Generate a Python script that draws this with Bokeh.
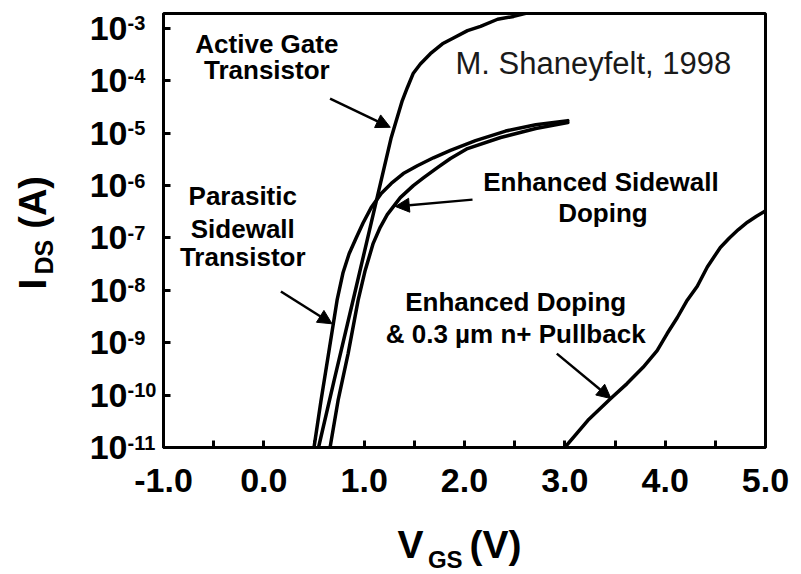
import math

from bokeh.plotting import figure
from bokeh.models import (Range1d, FixedTicker, Label, Arrow, NormalHead,
                          CustomJSTickFormatter, PrintfTickFormatter)
from bokeh.core.properties import value
from bokeh.embed import file_html
from bokeh.resources import INLINE

# --- measured transfer curves: gate voltage (V) vs drain current (A) ---
vgs_active = [0.545, 0.70, 0.90, 1.10, 1.27, 1.31, 1.38, 1.43, 1.49, 1.56, 1.66, 1.78,
              1.89, 2.03, 2.16, 2.33, 2.49, 2.76]
ids_active = [1.0e-11, 1.9e-10, 7.9e-9, 3.4e-7, 8.3e-6, 1.5e-5, 4.2e-5, 7.4e-5, 1.4e-4,
              2.1e-4, 3.3e-4, 5.1e-4, 6.6e-4, 9.1e-4, 1.1e-3, 1.5e-3, 1.7e-3, 2.3e-3]

vgs_parasitic = [0.50, 0.57, 0.65, 0.73, 0.79, 0.85, 0.92, 0.99, 1.07, 1.17, 1.27, 1.39,
                 1.53, 1.69, 1.86, 2.11, 2.41, 2.71, 3.03]
ids_parasitic = [1.0e-11, 7.9e-11, 7.1e-10, 6.5e-9, 2.2e-8, 5.0e-8, 1.0e-7, 1.95e-7,
                 3.8e-7, 7.1e-7, 1.1e-6, 1.7e-6, 2.4e-6, 3.4e-6, 4.7e-6, 7.2e-6,
                 1.1e-5, 1.45e-5, 1.74e-5]

vgs_sidewall = [0.66, 0.74, 0.84, 0.94, 1.01, 1.09, 1.16, 1.23, 1.36, 1.49, 1.59, 1.73,
                1.86, 2.03, 2.36, 2.71, 3.03]
ids_sidewall = [1.0e-11, 7.9e-11, 6.2e-10, 6.5e-9, 2.4e-8, 7.9e-8, 1.6e-7, 2.8e-7,
                5.9e-7, 1.0e-6, 1.4e-6, 2.2e-6, 3.3e-6, 5.1e-6, 8.3e-6, 1.23e-5, 1.6e-5]

vgs_pullback = [3.00, 3.23, 3.46, 3.62, 3.78, 3.92, 4.02, 4.12, 4.22, 4.32, 4.42, 4.55,
                4.64, 4.73, 4.82, 4.91, 5.00]
ids_pullback = [1.0e-11, 3.3e-11, 8.7e-11, 1.66e-10, 3.4e-10, 7.1e-10, 1.5e-9, 3.0e-9,
                6.5e-9, 1.2e-8, 2.8e-8, 6.6e-8, 1.0e-7, 1.45e-7, 2.0e-7, 2.6e-7, 3.3e-7]

# --- axes ---
x_ticks = [-1.0, 0.0, 1.0, 2.0, 3.0, 4.0, 5.0]
x_minor_ticks = [-0.5, 0.5, 1.5, 2.5, 3.5, 4.5]
y_exponents = [-11, -10, -9, -8, -7, -6, -5, -4, -3]
y_ticks = [10.0 ** e for e in y_exponents]

FONT = "Liberation Sans"

p = figure(width=801, height=574,
           x_range=Range1d(-1, 5), y_range=Range1d(1e-11, 10 ** -2.714),
           y_axis_type="log", output_backend="svg", toolbar_location=None,
           min_border_left=163, min_border_right=36,
           min_border_top=13, min_border_bottom=127,
           background_fill_color="white", border_fill_color="white")

p.grid.visible = False
p.outline_line_color = "black"
p.outline_line_width = 3

xa = p.xaxis[0]
xa.ticker = FixedTicker(ticks=x_ticks, minor_ticks=x_minor_ticks)
xa.formatter = PrintfTickFormatter(format="%.1f")
ya = p.yaxis[0]
ya.ticker = FixedTicker(ticks=y_ticks, minor_ticks=[])
ya.formatter = CustomJSTickFormatter(code="return '10'")

for ax in (xa, ya):
    ax.axis_line_width = 3
    ax.axis_line_color = "black"
    ax.major_tick_in = 7
    ax.major_tick_out = 0
    ax.minor_tick_in = 7
    ax.minor_tick_out = 0
    ax.major_tick_line_width = 3
    ax.minor_tick_line_width = 3
    ax.major_label_text_font = FONT
    ax.major_label_text_font_style = "bold"
    ax.major_label_text_color = "black"

xa.major_label_text_font_size = "34px"
xa.major_label_standoff = 21
ya.major_label_text_font_size = "34px"
ya.major_label_standoff = 36


def outside_text(x, y, text, size, x_offset=0, y_offset=0, angle=0.0):
    """Bold text placed next to the frame (drawn on the overlay level)."""
    p.text(x=x, y=y, text=text, x_offset=x_offset, y_offset=y_offset, angle=angle,
           text_font=value(FONT), text_font_style="bold", text_font_size=value(size),
           text_align="left", text_baseline="alphabetic", text_color="black",
           level="overlay")


# exponents of the decade labels
outside_text([-1.0] * len(y_ticks), y_ticks, [str(e) for e in y_exponents], "20px",
             x_offset=-36, y_offset=-5)

# --- curves ---
for xs, ys in ((vgs_active, ids_active), (vgs_parasitic, ids_parasitic),
               (vgs_sidewall, ids_sidewall), (vgs_pullback, ids_pullback)):
    p.line(xs, ys, line_color="black", line_width=3.5, line_join="round", line_cap="round")


# --- callout text ---
def note(x, y, text, size="26px"):
    p.add_layout(Label(x=x, y=y, text=text, text_font=FONT, text_font_style="bold",
                       text_font_size=size, text_align="center", text_baseline="middle",
                       text_color="black"))


note(0.03, 5.1e-4, "Active Gate")
note(0.03, 1.6e-4, "Transistor")
note(-0.21, 6.2e-7, "Parasitic")
note(-0.21, 1.5e-7, "Sidewall")
note(-0.21, 4.3e-8, "Transistor")
note(3.36, 1.15e-6, "Enhanced Sidewall")
note(3.38, 3.0e-7, "Doping")
note(2.51, 5.9e-9, "Enhanced Doping")
note(2.51, 1.45e-9, "& 0.3 \u00b5m n+ Pullback")

p.add_layout(Label(x=1.91, y=2.1e-4, text="M. Shaneyfelt, 1998", text_font=FONT,
                   text_font_size="31px", text_align="left", text_baseline="middle",
                   text_color="#1a1a1a"))

# --- callout arrows (tail -> head) ---
arrows = [
    ((0.66, 4.6e-5), (1.26, 1.3e-5)),
    ((0.17, 9.5e-9), (0.68, 2.3e-9)),
    ((2.08, 5.4e-7), (1.31, 4.0e-7)),
    ((2.92, 6.2e-10), (3.46, 8.6e-11)),
]
for (x0, y0), (x1, y1) in arrows:
    p.add_layout(Arrow(end=NormalHead(size=14, fill_color="black", line_color="black",
                                      line_width=1),
                       x_start=x0, y_start=y0, x_end=x1, y_end=y1,
                       line_color="black", line_width=2.5))

# --- axis titles with subscripts ---
# x title, hung below the bottom edge of the frame
outside_text([1.332], [1e-11], ["V"], "39px", y_offset=97)
outside_text([1.635], [1e-11], ["GS"], "24px", y_offset=112)
outside_text([2.05], [1e-11], ["(V)"], "39px", y_offset=97)

# y title, rotated, left of the frame
outside_text([-1.0], [1.04e-8], ["I"], "39px", x_offset=-131, angle=math.pi / 2)
outside_text([-1.0], [2.0e-8], ["DS"], "25px", x_offset=-120, angle=math.pi / 2)
outside_text([-1.0], [1.5e-7], ["(A)"], "38px", x_offset=-131, angle=math.pi / 2)

open("out.html", "w").write(file_html(p, INLINE))
